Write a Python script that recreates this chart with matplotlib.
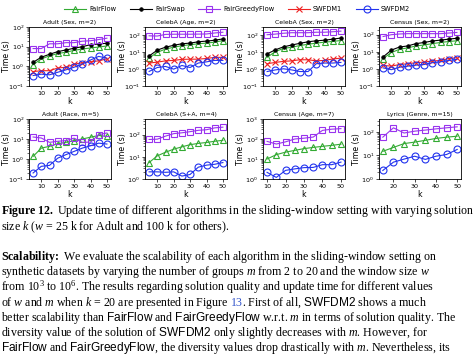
import matplotlib
matplotlib.use('Agg')
import matplotlib.pyplot as plt

plt.rcParams['mathtext.fontset'] = 'custom'
plt.rcParams['mathtext.rm'] = 'Liberation Serif'
plt.rcParams['mathtext.it'] = 'Liberation Serif:italic'
plt.rcParams['mathtext.bf'] = 'Liberation Serif:bold'
plt.rcParams['mathtext.sf'] = 'Liberation Sans'

k = [5, 10, 15, 20, 25, 30, 35, 40, 45, 50]
k_census_age = [10, 15, 20, 25, 30, 35, 40, 45, 50]
k_lyrics = [15, 20, 25, 30, 35, 40, 45, 50]

adult_sex_ff = [1.2, 2.4, 3.4, 4.5, 5.2, 6.5, 7.6, 8.6, 9.6, 10.8]
adult_sex_fs = [1.6, 2.9, 4.1, 5.6, 6.8, 8.3, 10, 12.6, 13.6, 15]
adult_sex_fgf = [8, 8, 14, 14, 16, 16, 19, 20, 23, 27]
adult_sex_sw1 = [0.54, 0.6, 0.6, 0.82, 0.9, 1.3, 1.5, 1.7, 1.9, 2.4]
adult_sex_sw2 = [0.34, 0.4, 0.37, 0.5, 0.66, 0.9, 1.3, 2.1, 3.2, 2.6]

celeba_age_ff = [4.5, 10, 15.5, 20, 24.6, 28, 32, 35, 40, 49]
celeba_age_fs = [6, 13.5, 20, 26, 32, 35, 42, 46, 52, 62]
celeba_age_fgf = [95, 92, 115, 118, 118, 118, 120, 122, 140, 155]
celeba_age_sw1 = [2.3, 2.6, 3.1, 3.3, 3.8, 3.9, 3.9, 4.3, 5, 5]
celeba_age_sw2 = [0.73, 1.25, 1.45, 1.0, 1.65, 1.25, 2.3, 2.7, 3.3, 3.3]

celeba_sex_ff = [5, 11, 17, 20, 25, 30, 35, 40, 44, 50]
celeba_sex_fs = [8, 14, 21, 27, 34, 42, 48, 52, 60, 70]
celeba_sex_fgf = [110, 120, 135, 145, 145, 145, 155, 155, 165, 180]
celeba_sex_sw1 = [2.1, 2.5, 2.9, 3.1, 3.6, 3.6, 3.1, 3.3, 4, 4.5]
celeba_sex_sw2 = [0.72, 0.9, 1.05, 0.9, 0.72, 0.72, 2.1, 2.3, 2.3, 2.5]

census_sex_ff = [4, 9, 14, 17, 22, 25, 30, 35, 40, 44]
census_sex_fs = [5, 12.5, 19, 22, 30, 35, 43, 48, 55, 62]
census_sex_fgf = [78, 100, 110, 115, 115, 115, 115, 115, 125, 135]
census_sex_sw1 = [1.6, 1.45, 1.8, 2, 2.3, 2.5, 2.9, 3.1, 4, 4.5]
census_sex_sw2 = [1.15, 0.9, 1.25, 1.45, 1.65, 1.8, 2.3, 2.6, 3.1, 3.6]

adult_race_ff = [1.35, 3.5, 4.3, 5.8, 6.8, 8.3, 10, 12.3, 15, 13.5]
adult_race_fgf = [12.6, 11.2, 6.8, 7.7, 8.3, 11, 6.8, 7, 16.5, 20]
adult_race_sw2 = [0.2, 0.43, 0.48, 1.1, 1.65, 2.4, 3.5, 4.6, 6.2, 5.6]

celeba_sa_ff = [5.5, 11, 16, 22, 28, 35, 40, 44, 50, 55]
celeba_sa_fgf = [60, 62, 85, 110, 120, 135, 155, 165, 200, 215]
celeba_sa_sw2 = [2.1, 2.1, 2.0, 2.1, 1.35, 1.6, 3.4, 4.2, 4.6, 5.5]

census_age_ff = [10, 16.5, 22, 27, 33, 38, 43, 48, 55]
census_age_fgf = [76, 56, 72, 100, 110, 125, 270, 310, 330]
census_age_sw2 = [2.15, 1.2, 2.7, 3.2, 3.7, 3.8, 5.2, 5.2, 7]

lyrics_ff = [15, 22, 32, 37, 44, 53, 60, 66]
lyrics_fgf = [60, 150, 90, 108, 120, 135, 150, 165]
lyrics_sw2 = [2.3, 5.2, 7, 9.3, 6.8, 9.3, 11, 18]

titles = ['Adult (Sex, m=2)', 'CelebA (Age, m=2)', 'CelebA (Sex, m=2)', 'Census (Sex, m=2)',
          'Adult (Race, m=5)', 'CelebA (S+A, m=4)', 'Census (Age, m=7)', 'Lyrics (Genre, m=15)']

styles = {
    'FairFlow': dict(color='#33aa33', marker='^', mfc='none', ms=5, mew=0.8),
    'FairSwap': dict(color='black', marker='o', ms=2.6, mew=0.5),
    'FairGreedyFlow': dict(color='#9933ee', marker='s', mfc='none', ms=5, mew=0.8),
    'SWFDM1': dict(color='#ee2222', marker='x', ms=4.5, mew=0.8),
    'SWFDM2': dict(color='#2233ee', marker='o', mfc='none', ms=5, mew=0.8),
}

panels = [
    (k, {'FairFlow': adult_sex_ff, 'FairSwap': adult_sex_fs, 'FairGreedyFlow': adult_sex_fgf,
         'SWFDM1': adult_sex_sw1, 'SWFDM2': adult_sex_sw2}, (0.1, 100), (2.5, 52.5)),
    (k, {'FairFlow': celeba_age_ff, 'FairSwap': celeba_age_fs, 'FairGreedyFlow': celeba_age_fgf,
         'SWFDM1': celeba_age_sw1, 'SWFDM2': celeba_age_sw2}, (0.1, 10 ** 2.5), (2.5, 52.5)),
    (k, {'FairFlow': celeba_sex_ff, 'FairSwap': celeba_sex_fs, 'FairGreedyFlow': celeba_sex_fgf,
         'SWFDM1': celeba_sex_sw1, 'SWFDM2': celeba_sex_sw2}, (0.1, 10 ** 2.5), (2.5, 52.5)),
    (k, {'FairFlow': census_sex_ff, 'FairSwap': census_sex_fs, 'FairGreedyFlow': census_sex_fgf,
         'SWFDM1': census_sex_sw1, 'SWFDM2': census_sex_sw2}, (0.1, 10 ** 2.45), (2.5, 52.5)),
    (k, {'FairFlow': adult_race_ff, 'FairGreedyFlow': adult_race_fgf, 'SWFDM2': adult_race_sw2},
     (0.1, 100), (2.5, 52.5)),
    (k, {'FairFlow': celeba_sa_ff, 'FairGreedyFlow': celeba_sa_fgf, 'SWFDM2': celeba_sa_sw2},
     (1, 10 ** 2.7), (2.5, 52.5)),
    (k_census_age, {'FairFlow': census_age_ff, 'FairGreedyFlow': census_age_fgf, 'SWFDM2': census_age_sw2},
     (1, 1000), (7.8, 52.2)),
    (k_lyrics, {'FairFlow': lyrics_ff, 'FairGreedyFlow': lyrics_fgf, 'SWFDM2': lyrics_sw2},
     (1, 10 ** 2.55), (13.2, 51.8)),
]

W, H = 474, 356
fig = plt.figure(figsize=(W / 100, H / 100), dpi=100)

lefts = [29, 145, 263, 379]
rows = [(27, 86), (119, 179)]
pw = 82

for i, (xs, series, ylim, xlim) in enumerate(panels):
    top, bot = rows[i // 4]
    left = lefts[i % 4]
    ax = fig.add_axes([left / W, 1 - bot / H, pw / W, (bot - top) / H])
    for name, ys in series.items():
        ax.plot(xs, ys, label=name, lw=0.8, **styles[name])
    ax.set_yscale('log')
    ax.set_ylim(*ylim)
    ax.set_xlim(*xlim)
    ax.set_xticks([10, 20, 30, 40, 50] if i != 7 else [20, 30, 40, 50])
    ax.tick_params(labelsize=4.6, length=2, width=0.5, pad=1.5)
    ax.tick_params(which='minor', length=1.2, width=0.4)
    for s in ax.spines.values():
        s.set_linewidth(0.6)
    ax.set_title(titles[i], fontsize=4.4, pad=2)
    ax.set_xlabel('k', fontsize=5.6, labelpad=1)
    ax.set_ylabel('Time (s)', fontsize=5.6)
    ax.yaxis.set_label_coords(-18 / pw, 0.5)
    if i == 0:
        handles0 = ax.get_legend_handles_labels()

h, l = handles0
fig.legend(h, l, loc='upper center', bbox_to_anchor=(0.5, 1.0), ncol=5, frameon=False,
           fontsize=4.8, handlelength=3.3, handletextpad=0.5, columnspacing=2.0)

# caption and body text under the figure; "13" is a blue link
text_size = 8.55
lines = [
    (214, [r"$\mathbf{Figure\ 12.}$ Update time of different algorithms in the sliding-window setting with varying solution"]),
    (230, [r"size $k$ ($w$ = 25 k for Adult and 100 k for others)."]),
    (260, [r"$\mathbf{Scalability\!:}$ We evaluate the scalability of each algorithm in the sliding-window setting on"]),
    (275, [r"synthetic datasets by varying the number of groups $m$ from 2 to 20 and the window size $w$"]),
    (291, [r"from 10$^3$ to 10$^6$. The results regarding solution quality and update time for different values"]),
    (306, [r"of $w$ and $m$ when $k$ = 20 are presented in Figure", "13", r". First of all, $\mathsf{SWFDM2}$ shows a much"]),
    (321, [r"better scalability than $\mathsf{FairFlow}$ and $\mathsf{FairGreedyFlow}$ w.r.t. $m$ in terms of solution quality. The"]),
    (336, [r"diversity value of the solution of $\mathsf{SWFDM2}$ only slightly decreases with $m$. However, for"]),
    (351, [r"$\mathsf{FairFlow}$ and $\mathsf{FairGreedyFlow}$, the diversity values drop drastically with $m$. Nevertheless, its"]),
]
renderer = fig.canvas.get_renderer()
for y, parts in lines:
    x = 1
    for s in parts:
        color = 'black'
        if s == '13':
            color = '#3355cc'
            x += 2.5
        t = fig.text(x / W, 1 - y / H, s, fontsize=text_size, family='Liberation Serif',
                     va='baseline', ha='left', color=color)
        x = t.get_window_extent(renderer).x1
        if s == '13':
            x -= 1

fig.savefig('out.png', dpi=100)
